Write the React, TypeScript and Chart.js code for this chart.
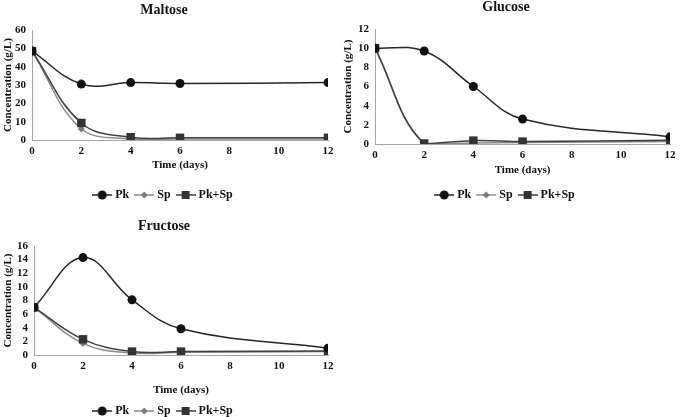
import React, { useEffect, useRef } from "react";
import { Chart, registerables } from "chart.js";
Chart.register(...registerables);

const days = [0, 2, 4, 6, 12];
const seriesNames = ["Pk", "Sp", "Pk+Sp"];

const maltosePk = [48.5, 30.5, 31.3, 30.8, 31.3];
const maltoseSp = [48.5, 6, 0.6, 0.5, 0.6];
const maltosePkSp = [48.5, 9.3, 1.5, 1.2, 1.2];

const glucosePk = [10, 9.7, 6, 2.6, 0.75];
const glucoseSp = [10, 0, 0.1, 0.15, 0.25];
const glucosePkSp = [10, 0.05, 0.35, 0.25, 0.4];

const fructosePk = [7, 14.3, 8.1, 3.85, 1.0];
const fructoseSp = [7, 1.7, 0.3, 0.4, 0.5];
const fructosePkSp = [7, 2.3, 0.5, 0.5, 0.6];

const FONT = "'Liberation Serif', 'Times New Roman', serif";
const TXT = "#111";

const styles = [
  { shape: "circle", marker: "#111", line: "#262626", radius: 4.5 },
  { shape: "rectRot", marker: "#7a7a7a", line: "#8c8c8c", radius: 3.5 },
  { shape: "rect", marker: "#333", line: "#404040", radius: 6 },
];

function legendImage(shape: string, color: string, lineColor: string) {
  const c = document.createElement("canvas");
  c.width = 20;
  c.height = 12;
  const ctx = c.getContext("2d")!;
  ctx.strokeStyle = lineColor;
  ctx.lineWidth = 1.5;
  ctx.beginPath();
  ctx.moveTo(0, 6);
  ctx.lineTo(20, 6);
  ctx.stroke();
  ctx.fillStyle = color;
  if (shape === "circle") {
    ctx.beginPath();
    ctx.arc(10, 6, 4.5, 0, Math.PI * 2);
    ctx.fill();
  } else if (shape === "rect") {
    ctx.fillRect(6, 2, 8, 8);
  } else {
    ctx.beginPath();
    ctx.moveTo(10, 2.5);
    ctx.lineTo(13.5, 6);
    ctx.lineTo(10, 9.5);
    ctx.lineTo(6.5, 6);
    ctx.closePath();
    ctx.fill();
  }
  return c;
}

type Lay = {
  x: number; y: number; w: number; h: number;
  padR: number; padB: number;
  titlePT: number; titlePB: number;
  yW: number; xH: number; tickPad: number; xTitlePB: number;
};

function SugarChart(props: { title: string; yMax: number; yStep: number; series: number[][]; lay: Lay }) {
  const ref = useRef<HTMLCanvasElement>(null);
  const { title, yMax, yStep, series, lay } = props;
  useEffect(() => {
    const datasets = series.map((vals, i) => ({
      label: seriesNames[i],
      data: days.map((d, j) => ({ x: d, y: vals[j] })),
      borderColor: styles[i].line,
      backgroundColor: styles[i].marker,
      pointBackgroundColor: styles[i].marker,
      pointBorderColor: styles[i].marker,
      pointBorderWidth: 0,
      pointStyle: styles[i].shape,
      pointRadius: styles[i].radius,
      borderWidth: 1.5,
      tension: 0.4,
      order: i === 2 ? -1 : i === 0 ? -2 : 0,
    }));
    const imgs = styles.map((s) => legendImage(s.shape, s.marker, s.line));
    const chart = new Chart(ref.current!, {
      type: "line",
      data: { datasets },
      options: {
        animation: false,
        responsive: false,
        devicePixelRatio: 1,
        layout: { padding: { left: 0, top: 0, right: lay.padR, bottom: lay.padB } },
        plugins: {
          tooltip: { enabled: false },
          title: {
            display: true,
            text: title,
            color: TXT,
            font: { family: FONT, size: 14, weight: "bold", lineHeight: 1 },
            padding: { top: lay.titlePT, bottom: lay.titlePB },
          },
          legend: {
            position: "bottom",
            labels: {
              usePointStyle: true,
              pointStyleWidth: 14,
              padding: 8,
              color: TXT,
              font: { family: FONT, size: 12, weight: "bold" },
              generateLabels: () =>
                seriesNames.map((n, i) => ({
                  text: n,
                  pointStyle: imgs[i],
                  fillStyle: styles[i].marker,
                  strokeStyle: styles[i].line,
                  lineWidth: 0,
                  hidden: false,
                  datasetIndex: i,
                  fontColor: TXT,
                })),
            },
          },
        },
        scales: {
          x: {
            type: "linear",
            min: 0,
            max: 12,
            ticks: { stepSize: 2, autoSkip: false, color: TXT, font: { family: FONT, size: 11, weight: "bold" }, padding: lay.tickPad, maxRotation: 0 },
            grid: { display: false, drawTicks: false },
            border: { display: true, color: "#a6a6a6", width: 1 },
            title: {
              display: true,
              text: "Time (days)",
              color: TXT,
              font: { family: FONT, size: 11, weight: "bold" },
              padding: { top: 0, bottom: lay.xTitlePB },
            },
            afterFit: (s: any) => { s.height = lay.xH; },
          },
          y: {
            min: 0,
            max: yMax,
            ticks: { stepSize: yStep, autoSkip: false, color: TXT, font: { family: FONT, size: 11, weight: "bold" }, padding: 6 },
            grid: { display: false, drawTicks: false },
            border: { display: true, color: "#a6a6a6", width: 1 },
            title: {
              display: true,
              text: "Concentration (g/L)",
              color: TXT,
              font: { family: FONT, size: 11, weight: "bold" },
              padding: { top: 2, bottom: 0 },
            },
            afterFit: (s: any) => { s.width = lay.yW; },
          },
        },
      } as any,
    });
    return () => chart.destroy();
  }, []);
  return (
    <canvas
      ref={ref}
      width={lay.w}
      height={lay.h}
      style={{ position: "absolute", left: lay.x, top: lay.y, width: lay.w, height: lay.h }}
    />
  );
}

export default function App() {
  return (
    <div style={{ position: "fixed", left: 0, top: 0, width: 680, height: 417, overflow: "hidden", background: "#fff" }}>
      <SugarChart
        title="Maltose"
        yMax={60}
        yStep={10}
        series={[maltosePk, maltoseSp, maltosePkSp]}
        lay={{ x: 0, y: 0, w: 340, h: 212, padR: 12, padB: 1, titlePT: 3, titlePB: 13, yW: 32, xH: 41, tickPad: 5, xTitlePB: 9.4 }}
      />
      <SugarChart
        title="Glucose"
        yMax={12}
        yStep={2}
        series={[glucosePk, glucoseSp, glucosePkSp]}
        lay={{ x: 340, y: 0, w: 340, h: 212, padR: 8, padB: 1, titlePT: 0, titlePB: 15, yW: 35, xH: 37, tickPad: 4.4, xTitlePB: 4.4 }}
      />
      <SugarChart
        title="Fructose"
        yMax={16}
        yStep={2}
        series={[fructosePk, fructoseSp, fructosePkSp]}
        lay={{ x: 0, y: 212, w: 340, h: 215, padR: 12, padB: 0, titlePT: 7, titlePB: 13, yW: 34, xH: 42, tickPad: 4.4, xTitlePB: 0.5 }}
      />
    </div>
  );
}
